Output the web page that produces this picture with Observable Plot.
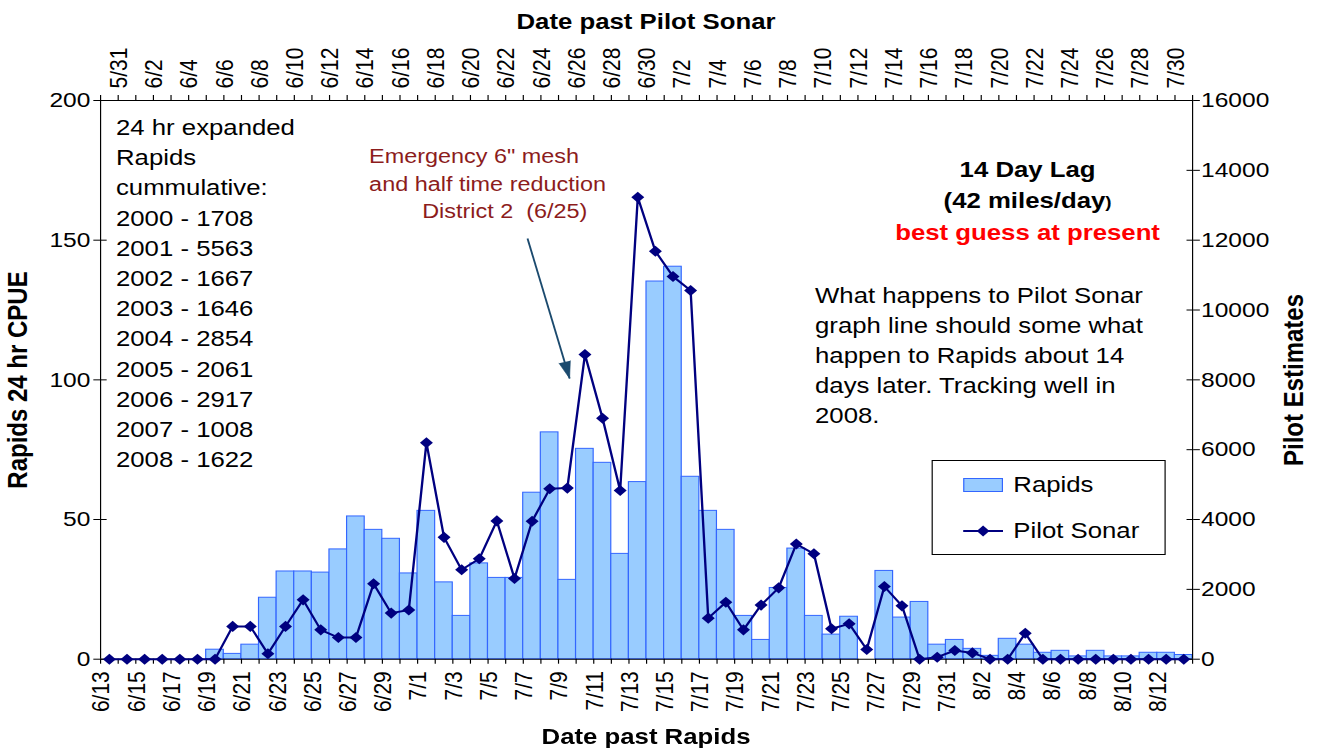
<!DOCTYPE html>
<html><head><meta charset="utf-8">
<script src="https://cdn.jsdelivr.net/npm/d3@7"></script>
<script src="https://cdn.jsdelivr.net/npm/@observablehq/plot@0.6"></script>
<style>
html,body{margin:0;padding:0;background:#fff;overflow:hidden}
#wrap{position:relative;width:1127px;height:748px;transform:scaleX(1.17036);transform-origin:0 0;font-family:"Liberation Sans",Arial,sans-serif;color:#000}
#wrap svg{position:absolute;left:0;top:0}
.t{position:absolute;white-space:pre;font-size:22px;line-height:30.2px}
.b{font-weight:bold}
</style></head>
<body><div id="wrap"></div>
<script>
// ---- data ----
const rapidsDates = ["6/13","6/14","6/15","6/16","6/17","6/18","6/19","6/20","6/21","6/22","6/23","6/24","6/25","6/26","6/27","6/28","6/29","6/30",
"7/1","7/2","7/3","7/4","7/5","7/6","7/7","7/8","7/9","7/10","7/11","7/12","7/13","7/14","7/15","7/16","7/17","7/18","7/19","7/20","7/21","7/22","7/23","7/24","7/25","7/26","7/27","7/28","7/29","7/30","7/31",
"8/1","8/2","8/3","8/4","8/5","8/6","8/7","8/8","8/9","8/10","8/11","8/12","8/13"];
const sonarDates = ["5/31","6/1","6/2","6/3","6/4","6/5","6/6","6/7","6/8","6/9","6/10","6/11","6/12","6/13","6/14","6/15","6/16","6/17","6/18","6/19","6/20","6/21","6/22","6/23","6/24","6/25","6/26","6/27","6/28","6/29","6/30",
"7/1","7/2","7/3","7/4","7/5","7/6","7/7","7/8","7/9","7/10","7/11","7/12","7/13","7/14","7/15","7/16","7/17","7/18","7/19","7/20","7/21","7/22","7/23","7/24","7/25","7/26","7/27","7/28","7/29","7/30","7/31"];
const rapids = [0,0,0,0,0,0,3.4,1.9,5.2,22,31.4,31.4,31,39.3,51.1,46.3,43.1,30.7,
53.1,27.5,15.5,34.3,29.1,29.1,59.6,81.2,28.4,75.3,70.3,37.7,63.4,135.2,140.5,65.3,53.1,46.3,15.5,6.9,25.5,39.6,15.5,8.8,15.2,0,31.6,14.9,20.5,5.2,6.9,
3.7,1.2,7.3,5.2,2.3,3,1,3,1,1,2.3,2.3,1.5];
const pilot = [0,0,0,0,0,0,0,940,940,155,940,1700,840,620,620,2160,1320,1410,
6200,3490,2560,2875,3960,2310,3950,4880,4900,8725,6900,4830,13230,11684,10960,10560,1175,1630,840,1550,2044,3300,3018,870,1013,278,2082,1528,0,57,250,
180,0,0,745,0,0,0,0,0,0,0,0,0];
const leftTicks = [0,50,100,150,200];
const rightTicks = [0,2000,4000,6000,8000,10000,12000,14000,16000];
const cumYears = ["2000","2001","2002","2003","2004","2005","2006","2007","2008"];
const cumValues = [1708,5563,1667,1646,2854,2061,2917,1008,1622];
const arrowX = [24.24, 26.63];
const arrowY = [150.6, 100.5];

const RATIO = 80; // right axis units per left axis unit
const W = 1127;
const barFill = "#99CCFF", barStroke = "#3366FF", lineColor = "#000080";
const font = "Liberation Sans, Arial, sans-serif";
const edges = d3.range(rapids.length + 1);

const chart = Plot.plot({
  width: W, height: 748,
  marginLeft: 85.44, marginRight: 108.5, marginTop: 100, marginBottom: 89.3,
  x: {domain: [0, rapids.length], axis: null},
  y: {domain: [0, 200], axis: null},
  style: {fontFamily: font, background: "white", overflow: "visible", color: "#000"},
  marks: [
    Plot.rect(rapids, {filter: d => d > 0, x1: (d, i) => i, x2: (d, i) => i + 1, y1: 0, y2: d => d,
      fill: barFill, stroke: barStroke, strokeWidth: 1}),
    Plot.ruleX([0, rapids.length], {stroke: "#000", strokeWidth: 1}),
    Plot.ruleY([0, 200], {stroke: "#000", strokeWidth: 1}),
    // category tick marks
    Plot.axisX({anchor: "bottom", ticks: edges, tickSize: 5, fill: "none", tickFormat: () => "", label: null}),
    Plot.axisX({anchor: "top", ticks: edges, tickSize: 6, fill: "none", tickFormat: () => "", label: null}),
    // left axis (cross ticks)
    Plot.axisY({anchor: "left", ticks: leftTicks, tickSize: 5.7, tickPadding: 3, fontSize: 21, label: null}),
    Plot.axisY({anchor: "left", ticks: leftTicks, tickSize: 5.7, dx: 5.7, fill: "none", tickFormat: () => "", label: null}),
    // right axis (cross ticks)
    Plot.axisY({anchor: "right", ticks: rightTicks.map(v => v / RATIO), tickSize: 5.7, tickPadding: 1.5, fontSize: 21,
      tickFormat: d => String(Math.round(d * RATIO)), label: null}),
    Plot.axisY({anchor: "right", ticks: rightTicks.map(v => v / RATIO), tickSize: 5.7, dx: -5.7, fill: "none", tickFormat: () => "", label: null}),
    // date labels
    Plot.text(rapidsDates, {filter: (d, i) => i % 2 === 0, x: (d, i) => i + 0.5, frameAnchor: "bottom",
      text: d => d, rotate: -90, textAnchor: "end", dy: 12, fontSize: 21, fill: "#000"}),
    Plot.text(sonarDates, {filter: (d, i) => i % 2 === 0, x: (d, i) => i + 0.5, frameAnchor: "top",
      text: d => d, rotate: -90, textAnchor: "start", dy: -12, fontSize: 21, fill: "#000"}),
    // pilot sonar line
    Plot.line(pilot, {x: (d, i) => i + 0.5, y: d => d / RATIO, stroke: lineColor, strokeWidth: 2}),
    Plot.dot(pilot, {x: (d, i) => i + 0.5, y: d => d / RATIO, symbol: "diamond2", r: 5, fill: lineColor, stroke: "none"}),
    // annotation arrow
    Plot.link([0], {x1: () => arrowX[0], y1: () => arrowY[0], x2: () => arrowX[1], y2: () => arrowY[1], stroke: "#1b4a6e", strokeWidth: 1.6}),
    Plot.vector([0], {x: () => arrowX[1], y: () => arrowY[1], shape: "spike", anchor: "end", length: 17, r: 5,
      rotate: 165.6, fill: "#1b4a6e", stroke: "#1b4a6e", strokeWidth: 0.5})
  ]
});
const wrap = document.getElementById("wrap");
wrap.appendChild(chart);

function addText(html, style, cls = "t") {
  const d = document.createElement("div");
  d.className = cls;
  d.innerHTML = html;
  Object.assign(d.style, style);
  wrap.appendChild(d);
  return d;
}
// axis titles
addText("Date past Pilot Sonar", {left: "0px", width: (85.44 * 2 + 933.06) + "px", textAlign: "center", top: "8px", lineHeight: "28px"}, "t b");
addText("Date past Rapids", {left: "0px", width: (85.44 * 2 + 933.06) + "px", textAlign: "center", top: "723px", lineHeight: "28px"}, "t b");
addText("Rapids 24 hr CPUE", {left: "15.4px", top: "380px", fontSize: "24px", lineHeight: "28px", transform: "translate(-50%,-50%) rotate(-90deg)"}, "t b");
addText("Pilot Estimates", {left: "1104.8px", top: "380px", fontSize: "24px", lineHeight: "28px", transform: "translate(-50%,-50%) rotate(-90deg)"}, "t b");

// cumulative block
const cumLines = ["24 hr expanded", "Rapids", "cummulative:"].concat(cumYears.map((y, i) => y + " - " + cumValues[i]));
addText(cumLines.join("\n"), {left: "99.1px", top: "112.9px"});

// emergency annotation
const redDark = "#8c1c1c";
addText("Emergency 6\" mesh", {left: "315.4px", top: "143px", fontSize: "20px", lineHeight: "27.5px", color: redDark});
addText("and half time reduction", {left: "315.4px", top: "170.5px", fontSize: "20px", lineHeight: "27.5px", color: redDark});
addText("District 2  (6/25)", {left: "360.7px", top: "198px", fontSize: "20px", lineHeight: "27.5px", color: redDark});

// lag block
addText("14 Day Lag", {left: "778px", width: "200px", textAlign: "center", top: "155px"}, "t b");
addText("(42 miles/day<span style=\"font-size:16px\">)</span>", {left: "778px", width: "200px", textAlign: "center", top: "186px"}, "t b");
addText("best guess at present", {left: "728px", width: "300px", textAlign: "center", top: "218px", color: "#ff0000"}, "t b");

// explanation
addText("What happens to Pilot Sonar\ngraph line should some what\nhappen to Rapids about 14\ndays later. Tracking well in\n2008.", {left: "696.4px", top: "281px", lineHeight: "30px"});

// legend
const lg = document.createElement("div");
Object.assign(lg.style, {position: "absolute", left: "796.3px", top: "460px", width: "198px", height: "93px", border: "1px solid #000", background: "#fff"});
lg.innerHTML =
  '<div style="position:absolute;left:26px;top:17px;width:32px;height:12px;background:' + barFill + ';border:1px solid ' + barStroke + '"></div>' +
  '<div class="t" style="left:68.5px;top:9px;line-height:30px">Rapids</div>' +
  '<svg width="34" height="14" style="position:absolute;left:26px;top:63px;overflow:visible">' +
  '<line x1="0" y1="7" x2="34" y2="7" stroke="' + lineColor + '" stroke-width="2"/>' +
  '<path d="M17,1.6 L22.4,7 L17,12.4 L11.6,7 Z" fill="' + lineColor + '"/></svg>' +
  '<div class="t" style="left:68.5px;top:55px;line-height:30px">Pilot Sonar</div>';
wrap.appendChild(lg);
</script>
</body></html>
